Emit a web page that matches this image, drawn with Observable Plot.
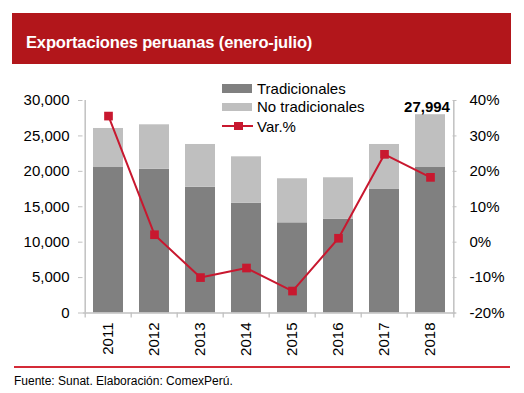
<!DOCTYPE html>
<html>
<head>
<meta charset="utf-8">
<script src="https://cdn.jsdelivr.net/npm/d3@7"></script>
<script src="https://cdn.jsdelivr.net/npm/@observablehq/plot@0.6"></script>
<style>
  body { margin: 0; background: #fff; font-family: "Liberation Sans", Arial, sans-serif; }
  #wrap { position: relative; width: 524px; height: 393px; overflow: hidden; background: #fff; }
  #titlebar { position: absolute; left: 12px; top: 13px; width: 499px; height: 51px; background: #b2161b; }
  #title { position: absolute; left: 26px; top: 34.3px; color: #fff; font-weight: bold; font-size: 16.5px; line-height: 16.5px; letter-spacing: -0.15px; white-space: nowrap; }
  #chart { position: absolute; left: 0; top: 70px; }
  .leg { position: absolute; left: 257px; font-size: 15px; line-height: 15px; color: #000; white-space: nowrap; }
  .sw { position: absolute; left: 222px; width: 30px; height: 8.5px; }
  #legline { position: absolute; left: 222px; top: 125px; width: 31px; height: 2px; background: #c8182f; }
  #legmark { position: absolute; left: 234px; top: 121.7px; width: 8.6px; height: 8.6px; background: #c8182f; }
  #rule { position: absolute; left: 14px; top: 366px; width: 496px; height: 1.5px; background: #d42a37; }
  #foot { position: absolute; left: 14px; top: 374.8px; font-size: 12px; line-height: 12px; color: #000; white-space: nowrap; }
</style>
</head>
<body>
<div id="wrap">
  <div id="titlebar"></div>
  <div id="title"></div>
  <div id="chart"></div>
  <div class="sw" id="sw1" style="top:84px;"></div>
  <div class="leg" id="leg1" style="top:81px;"></div>
  <div class="sw" id="sw2" style="top:102.5px;"></div>
  <div class="leg" id="leg2" style="top:99.4px;"></div>
  <div id="legline"></div>
  <div id="legmark"></div>
  <div class="leg" id="leg3" style="top:118.7px;"></div>
  <div id="rule"></div>
  <div id="foot"></div>
</div>
<script>
// ---- data ----
const titleText = "Exportaciones peruanas (enero-julio)";
const footText = "Fuente: Sunat. Elaboración: ComexPerú.";
const years = ["2011", "2012", "2013", "2014", "2015", "2016", "2017", "2018"];
const tradicionales = [20540, 20300, 17760, 15500, 12730, 13250, 17440, 20540];
const noTradicionales = [5510, 6270, 6030, 6550, 6220, 5840, 6350, 7454];
const varPct = [35.6, 2.1, -10.0, -7.3, -13.8, 1.1, 24.8, 18.3];
const seriesNames = ["Tradicionales", "No tradicionales", "Var.%"];
const seriesColors = ["#808080", "#bfbfbf", "#c8182f"];
const leftTicks = [0, 5000, 10000, 15000, 20000, 25000, 30000];
const rightTicks = [-20, -10, 0, 10, 20, 30, 40];
const totalLabel = "27,994";

// ---- text ----
document.getElementById("title").textContent = titleText;
document.getElementById("foot").textContent = footText;
document.getElementById("leg1").textContent = seriesNames[0];
document.getElementById("leg2").textContent = seriesNames[1];
document.getElementById("leg3").textContent = seriesNames[2];
document.getElementById("sw1").style.background = seriesColors[0];
document.getElementById("sw2").style.background = seriesColors[1];

// ---- tables ----
const stacked = [];
years.forEach((y, i) => {
  stacked.push({year: y, series: seriesNames[0], value: tradicionales[i]});
  stacked.push({year: y, series: seriesNames[1], value: noTradicionales[i]});
});
const pctData = years.map((y, i) => ({year: y, pct: varPct[i]}));
const lastYear = years[years.length - 1];
const lastTotal = tradicionales[years.length - 1] + noTradicionales[years.length - 1];

// right axis mapped onto left scale: -20% -> 0, 40% -> 30000
const pctToY = p => (p + 20) * 500;
const yToPct = v => v / 500 - 20;

const W = 524, H = 290, ML = 82.5, MR = 68.5, MT = 30, MB = 47.5;
const step = (W - ML - MR) / years.length;
const axisColor = "#c0c0c0";

const chart = Plot.plot({
  width: W, height: H,
  marginLeft: ML, marginRight: MR, marginTop: MT, marginBottom: MB,
  style: {fontFamily: "'Liberation Sans', Arial, sans-serif", fontSize: "15px", color: "#000", background: "transparent"},
  x: {type: "band", domain: years, paddingInner: 0.355, paddingOuter: 0.1775, label: null},
  y: {domain: [0, 30000], label: null},
  color: {domain: seriesNames, range: seriesColors},
  marks: [
    Plot.barY(stacked, {x: "year", y: "value", fill: "series", order: seriesNames}),
    // axis lines
    Plot.ruleY([0], {stroke: axisColor, strokeWidth: 1.5}),
    Plot.ruleX([years[0]], {dx: -step / 2, y1: 0, y2: 30000, stroke: axisColor, strokeWidth: 1.5}),
    Plot.ruleX([lastYear], {dx: step / 2, y1: 0, y2: 30000, stroke: axisColor, strokeWidth: 1.5}),
    // category boundary ticks
    Plot.ruleX(years, {x: d => d, dx: -step / 2, y1: 0, y2: -700, stroke: axisColor, strokeWidth: 1.3}),
    Plot.ruleX([lastYear], {dx: step / 2, y1: 0, y2: -700, stroke: axisColor, strokeWidth: 1.3}),
    Plot.axisY({anchor: "left", ticks: leftTicks, tickFormat: d3.format(","), tickSize: 4.5, tickPadding: 9, stroke: axisColor, fontSize: 15}),
    Plot.axisY({anchor: "right", ticks: rightTicks.map(pctToY), tickFormat: d => Math.round(yToPct(d)) + "%", tickSize: 4, dx: -4, tickPadding: 13.5, stroke: axisColor, fontSize: 15}),
    Plot.axisX({tickSize: 0, tickRotate: -90, tickPadding: 9.5, fontSize: 15}),
    Plot.line(pctData, {x: "year", y: d => pctToY(d.pct), stroke: seriesColors[2], strokeWidth: 2}),
    Plot.dot(pctData, {x: "year", y: d => pctToY(d.pct), symbol: "square", r: 4.9, fill: seriesColors[2], stroke: "none"}),
    Plot.text([lastYear], {x: d => d, y: [lastTotal], text: [totalLabel], lineAnchor: "bottom", dy: -3, dx: -3.5, fontWeight: "bold", fontSize: 15, fill: "#000"})
  ]
});
document.getElementById("chart").appendChild(chart);
</script>
</body>
</html>
